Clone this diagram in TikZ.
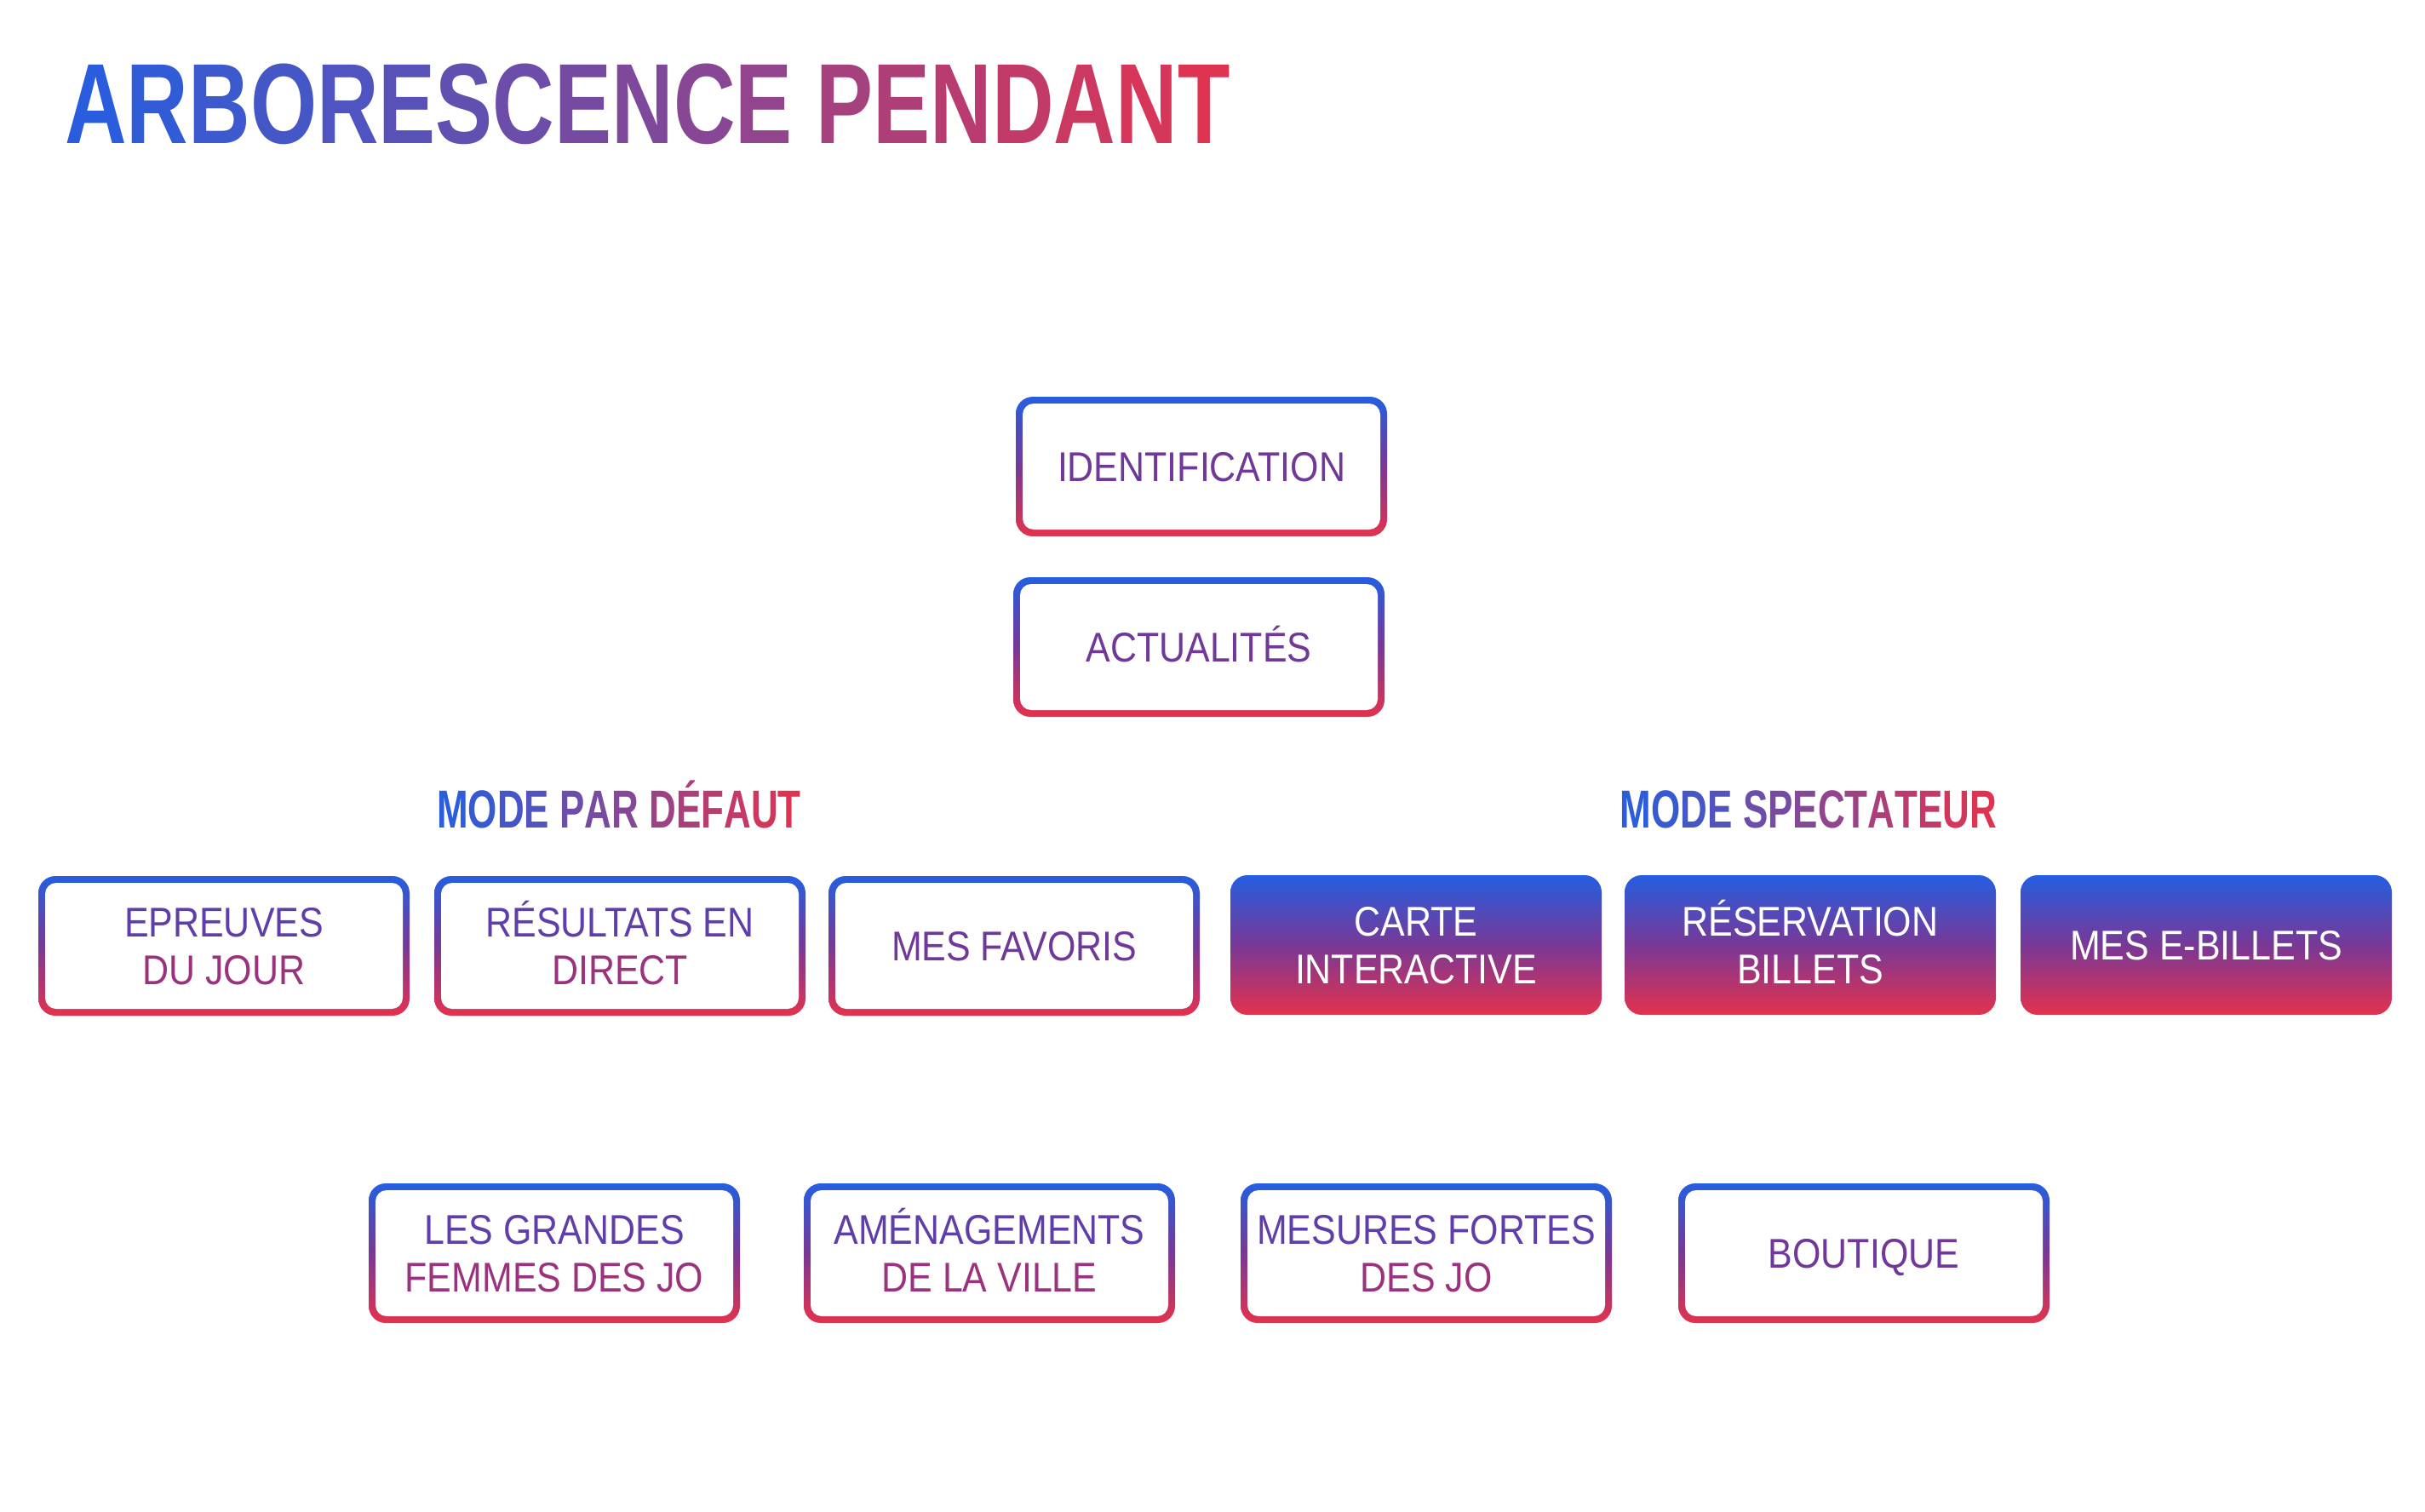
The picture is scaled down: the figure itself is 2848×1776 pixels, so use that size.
\documentclass[tikz,border=0pt]{standalone}
\usepackage{fontspec}
\setmainfont{Liberation Sans}
\newfontfamily\boxfont[FakeStretch=0.88]{Liberation Sans}
\newfontfamily\titlefont[FakeStretch=0.75]{Liberation Sans}
\newfontfamily\headfont[FakeStretch=0.7]{Liberation Sans}
\definecolor{tblue}{RGB}{37,94,224}
\definecolor{tred}{RGB}{228,50,77}
\definecolor{tmid}{RGB}{120,56,150}
\definecolor{lineA}{RGB}{95,62,170}
\definecolor{lineB}{RGB}{155,50,125}
\definecolor{lineC}{RGB}{112,56,152}
\newcommand\gc[2]{\textcolor{tred!#1!tblue}{#2}}
\newcommand\tst{\rule{0pt}{0.92em}}
\newcommand\bst{\rule[-0.2em]{0pt}{0pt}}
\begin{document}
\begin{tikzpicture}[x=0.5pt,y=-0.5pt,
  boxbase/.style={rounded corners=10pt, minimum width=218pt, minimum height=82pt,
    inner sep=0pt, align=center,
    font=\boxfont\fontsize{24.4pt}{28pt}\selectfont,
    top color=tblue, bottom color=tred, middle color=tmid},
  obox/.style={boxbase, path picture={\fill[white,rounded corners=6.5pt]
    ([shift={(4pt,4pt)}]path picture bounding box.south west) rectangle
    ([shift={(-4pt,-4pt)}]path picture bounding box.north east);}},
  filledbox/.style={boxbase, text=white},
  head/.style={anchor=base, inner sep=0pt,
    font=\headfont\bfseries\fontsize{31.4pt}{36pt}\selectfont}
]
\fill[white] (0,0) rectangle (2848,1776);
\useasboundingbox (0,0) rectangle (2848,1776);

% title
\node[anchor=base west, inner sep=0pt,
  font=\titlefont\bfseries\fontsize{67pt}{70pt}\selectfont] (title) at (76,169)
  {\gc{2}{A}\gc{7}{R}\gc{12}{B}\gc{17}{O}\gc{22}{R}\gc{27}{E}\gc{32}{S}\gc{37}{C}\gc{42}{E}\gc{47}{N}\gc{52}{C}\gc{57}{E} \gc{67}{P}\gc{72}{E}\gc{77}{N}\gc{82}{D}\gc{87}{A}\gc{92}{N}\gc{97}{T}};

% row 1
\node[obox] (ident) at (1411,548) {\color{lineC}\tst IDENTIFICATION\bst};
\node[obox] (actu) at (1408,760) {\color{lineC}\tst ACTUALITÉS\bst};

% headers
\node[head] (hdef) at (727,972)
  {\gc{3}{M}\gc{10}{O}\gc{17}{D}\gc{23}{E} \gc{37}{P}\gc{43}{A}\gc{50}{R} \gc{63}{D}\gc{70}{É}\gc{77}{F}\gc{83}{A}\gc{90}{U}\gc{97}{T}};
\node[head] (hspec) at (2124,972)
  {\gc{3}{M}\gc{10}{O}\gc{17}{D}\gc{23}{E} \gc{37}{S}\gc{43}{P}\gc{50}{E}\gc{57}{C}\gc{63}{T}\gc{70}{A}\gc{77}{T}\gc{83}{E}\gc{90}{U}\gc{97}{R}};

% row 2
\node[obox] (epr) at (263,1111) {\color{lineA}\tst EPREUVES\\\color{lineB}DU JOUR\bst};
\node[obox] (res) at (728,1111) {\color{lineA}\tst RÉSULTATS EN\\\color{lineB}DIRECT\bst};
\node[obox] (fav) at (1191,1111) {\color{lineC}\tst MES FAVORIS\bst};
\node[filledbox] (carte) at (1663,1110) {\tst CARTE\\INTERACTIVE\bst};
\node[filledbox] (resa) at (2126,1110) {\tst RÉSERVATION\\BILLETS\bst};
\node[filledbox] (ebil) at (2591,1110) {\tst MES E-BILLETS\bst};

% row 3
\node[obox] (femmes) at (651,1472) {\color{lineA}\tst LES GRANDES\\\color{lineB}FEMMES DES JO\bst};
\node[obox] (amen) at (1162,1472) {\color{lineA}\tst AMÉNAGEMENTS\\\color{lineB}DE LA VILLE\bst};
\node[obox] (mesures) at (1675,1472) {\color{lineA}\tst MESURES FORTES\\\color{lineB}DES JO\bst};
\node[obox] (bout) at (2189,1472) {\color{lineC}\tst BOUTIQUE\bst};
\end{tikzpicture}
\end{document}
